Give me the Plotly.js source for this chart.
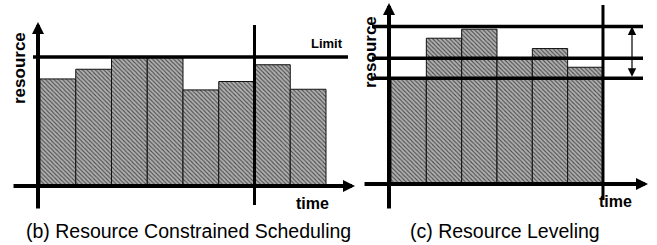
<!DOCTYPE html>
<html><head><meta charset="utf-8">
<script src="https://cdn.plot.ly/plotly-3.0.1.min.js"></script>
<style>html,body{margin:0;padding:0;background:#fff}#chart{width:657px;height:245px}</style>
</head><body><div id="chart"></div>
<script>
// ---- data ----
const periodsB = [1, 2, 3, 4, 5, 6, 7, 8];
const resourceB = [8.3, 9.05, 9.95, 9.95, 7.45, 8.1, 9.4, 7.5];
const limitB = 10;
const markTimeB = 6.5;

const periodsC = [1, 2, 3, 4, 5, 6];
const resourceC = [8.15, 11.3, 12.0, 9.7, 10.5, 9.05];
const levelsC = [8.2, 9.75, 12.2];
const markTimeC = 6.5;

const captionB = '(b) Resource Constrained Scheduling';
const captionC = '(c) Resource Leveling';
const yLabel = 'resource';
const xLabel = 'time';
const limitLabel = 'Limit';

// ---- geometry (pixels) ----
const W = 657, H = 245;
const B = {x0: 40, dx: 35.75, y0: 186, dy: 12.9};
const C = {x0: 391, dx: 35.33, y0: 184, dy: 12.9};
const ix = (g, px) => 0.5 + (px - g.x0) / g.dx;
const iy = (g, py) => (g.y0 - py) / g.dy;
const px2p = px => px / W;
const py2p = py => 1 - py / H;

const fill = {
  color: '#aaaaaa',
  line: {color: '#111', width: 1},
  pattern: {shape: '\\', fgcolor: '#4a4a4a', bgcolor: '#b0b0b0', size: 3, solidity: 0.35}
};

const traces = [
  {type: 'bar', x: periodsB, y: resourceB, width: 1, marker: fill, xaxis: 'x', yaxis: 'y', hoverinfo: 'skip'},
  {type: 'bar', x: periodsC, y: resourceC, width: 1, marker: fill, xaxis: 'x2', yaxis: 'y2', hoverinfo: 'skip'}
];

const hid = {visible: false, showgrid: false, zeroline: false, fixedrange: true};

const lineS = (xr, yr, x0, x1, y0, y1, w) => ({type: 'line', xref: xr, yref: yr, x0, x1, y0, y1, line: {color: '#000', width: w}, layer: 'above'});

const shapes = [
  lineS('x', 'y', ix(B, 33), ix(B, 348), limitB, limitB, 3.5),
  lineS('x', 'y', markTimeB, markTimeB, iy(B, 25), iy(B, 205), 3),
  lineS('x2', 'y2', markTimeC, markTimeC, iy(C, 5), iy(C, 200), 3)
];
levelsC.forEach(v => shapes.push(lineS('x2', 'y2', ix(C, 372), ix(C, 643), v, v, 3.5)));

const arrow = (xr, yr, x, y, ax, ay, w, size, extra) => Object.assign({
  xref: xr, yref: yr, axref: xr, ayref: yr, x, y, ax, ay, text: '', showarrow: true,
  arrowhead: 2, arrowsize: size, arrowwidth: w, arrowcolor: '#000'
}, extra || {});

const txt = (px, py, text, size, bold, angle, family) => ({
  xref: 'paper', yref: 'paper', x: px2p(px), y: py2p(py), text: bold ? '<b>' + text + '</b>' : text,
  showarrow: false, xanchor: 'center', yanchor: 'middle', textangle: angle || 0,
  font: {family: family || 'Liberation Sans, Arial, sans-serif', size, color: '#000'}
});

const annotations = [
  // panel b axes
  arrow('x', 'y', ix(B, 355), 0, ix(B, 12), 0, 4, 0.6),
  arrow('x', 'y', ix(B, 38), iy(B, 22), ix(B, 38), iy(B, 210), 4, 0.6),
  // panel c axes
  arrow('x2', 'y2', ix(C, 648), 0, ix(C, 363), 0, 4, 0.6),
  arrow('x2', 'y2', ix(C, 389), iy(C, 3), ix(C, 389), iy(C, 210), 4, 0.6),
  // leveling range arrow
  arrow('x2', 'y2', ix(C, 632), levelsC[2], ix(C, 632), levelsC[0], 1.2, 1.4, {arrowside: 'end+start'}),
  // labels
  txt(19, 68, yLabel, 17, true, -90),
  txt(312, 203, xLabel, 16, true, 0),
  txt(327, 43, limitLabel, 13, true, 0),
  txt(370, 52, yLabel, 17, true, -90),
  txt(615, 201, xLabel, 16, true, 0),
  txt(188, 231, captionB, 19.5),
  txt(505, 231, captionC, 19.5)
];

const layout = {
  width: W, height: H, margin: {l: 0, r: 0, t: 0, b: 0, pad: 0},
  paper_bgcolor: '#fff', plot_bgcolor: '#fff', showlegend: false, bargap: 0,
  xaxis: Object.assign({}, hid, {domain: [0, px2p(360)], range: [ix(B, 0), ix(B, 360)]}),
  yaxis: Object.assign({}, hid, {domain: [0, 1], range: [iy(B, H), iy(B, 0)], anchor: 'x'}),
  xaxis2: Object.assign({}, hid, {domain: [px2p(360), 1], range: [ix(C, 360), ix(C, W)], anchor: 'y2'}),
  yaxis2: Object.assign({}, hid, {domain: [0, 1], range: [iy(C, H), iy(C, 0)], anchor: 'x2'}),
  shapes, annotations
};

Plotly.newPlot('chart', traces, layout, {staticPlot: true, displayModeBar: false});
</script>
</body></html>
